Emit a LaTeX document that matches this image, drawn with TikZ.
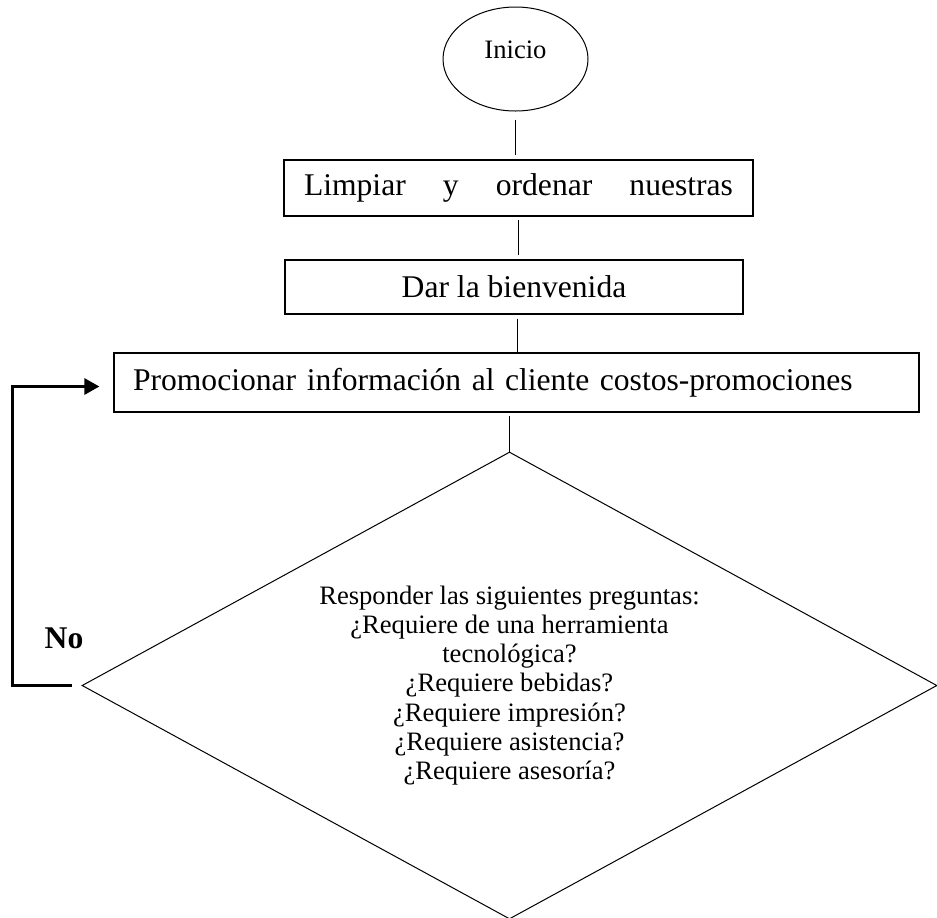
\documentclass[tikz,border=0pt]{standalone}
\usepackage{fontspec}
\setmainfont{Liberation Serif}
\usetikzlibrary{shapes.geometric,arrows.meta,positioning}

\tikzset{
  caja/.style={rectangle, draw, line width=0.6pt, inner sep=0pt, font=\fontsize{15.8}{19}\selectfont},
  conector/.style={draw, line width=0.5pt},
  retorno/.style={draw, line width=1.5pt, -{Triangle[length=7.5pt,width=8pt]}}
}

\begin{document}
\begin{tikzpicture}[x=0.5pt,y=-0.5pt]
  \useasboundingbox (0,0) rectangle (937,917);

  % pasos del proceso
  \node[ellipse, draw, line width=0.5pt, minimum width=72.5pt, minimum height=52pt, inner sep=0pt,
        text depth=9pt, font=\fontsize{13.3}{16}\selectfont] (inicio) at (515.5,59) {Inicio};
  \node[caja, minimum width=234.5pt, minimum height=28pt] (limpiar) at (518.5,188)
        {\makebox[214.5pt][s]{Limpiar\hfill y\hfill ordenar\hfill nuestras}};
  \node[caja, minimum width=229pt, minimum height=27pt] (bienvenida) at (514,287) {Dar la bienvenida};
  \node[caja, minimum width=402.5pt, minimum height=29.5pt, text width=383.5pt, inner xsep=9.5pt, align=left]
        (promocionar) at (516.5,382.5) {Promocionar informaci\'on al cliente costos-promociones};
  \node[diamond, draw, line width=0.5pt, shape aspect=1.83, inner sep=0pt, minimum width=427.5pt,
        minimum height=233.5pt, align=center, font=\fontsize{13.3}{14.6}\selectfont] (preguntas) at (509.5,685.5)
        {Responder las siguientes preguntas:\\ ¿Requiere de una herramienta\\ tecnológica?\\
         ¿Requiere bebidas?\\ ¿Requiere impresión?\\ ¿Requiere asistencia?\\ ¿Requiere asesoría?};
  \node[font=\bfseries\fontsize{15.8}{19}\selectfont] (no) at (64,638) {No};

  % conectores
  \draw[conector, shorten <=4pt, shorten >=2pt] (inicio.south) -- (inicio.south |- limpiar.north);
  \draw[conector, shorten <=1.5pt, shorten >=2pt] (limpiar.south) -- (limpiar.south |- bienvenida.north);
  \draw[conector, shorten <=2pt] ([xshift=1.5pt]bienvenida.south) -- ([xshift=1.5pt]bienvenida.south |- promocionar.north);
  \draw[conector, shorten <=1.5pt] (preguntas.north |- promocionar.south) -- (preguntas.north);
  \draw[retorno] ([xshift=-5pt]preguntas.west) -- ++(-59,0) |- ([xshift=-7pt,yshift=-2pt]promocionar.west);
\end{tikzpicture}
\end{document}
